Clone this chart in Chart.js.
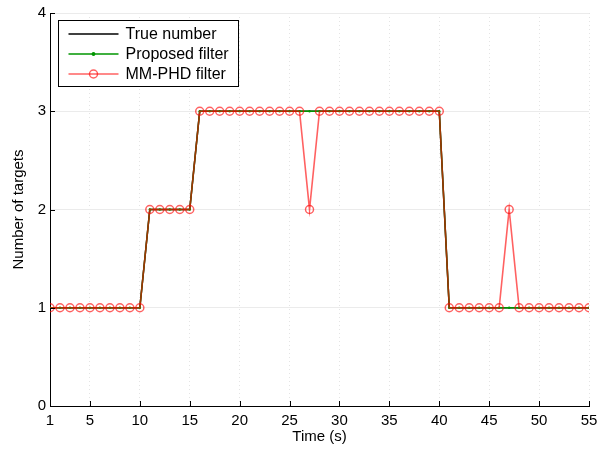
<!DOCTYPE html>
<html lang="en">
<head>
    <meta charset="UTF-8">
    <title>Number of targets</title>
    <script src="https://cdn.jsdelivr.net/npm/chart.js"></script>
    <style>
        body {
            margin: 0;
            background-color: #fff;
        }

        .wrap {
            width: 605px;
            height: 452px;
        }
    </style>
</head>
<body>
    <div class="wrap">
        <canvas id="countChart" width="605" height="452"></canvas>
    </div>

    <script>
        const timeSteps = [1, 2, 3, 4, 5, 6, 7, 8, 9, 10,
            11, 12, 13, 14, 15, 16, 17, 18, 19, 20,
            21, 22, 23, 24, 25, 26, 27, 28, 29, 30,
            31, 32, 33, 34, 35, 36, 37, 38, 39, 40,
            41, 42, 43, 44, 45, 46, 47, 48, 49, 50,
            51, 52, 53, 54, 55];

        const trueNumber = [1, 1, 1, 1, 1, 1, 1, 1, 1, 1,
            2, 2, 2, 2, 2, 3, 3, 3, 3, 3,
            3, 3, 3, 3, 3, 3, 3, 3, 3, 3,
            3, 3, 3, 3, 3, 3, 3, 3, 3, 3,
            1, 1, 1, 1, 1, 1, 1, 1, 1, 1,
            1, 1, 1, 1, 1];

        const proposedFilter = [1, 1, 1, 1, 1, 1, 1, 1, 1, 1,
            2, 2, 2, 2, 2, 3, 3, 3, 3, 3,
            3, 3, 3, 3, 3, 3, 3, 3, 3, 3,
            3, 3, 3, 3, 3, 3, 3, 3, 3, 3,
            1, 1, 1, 1, 1, 1, 1, 1, 1, 1,
            1, 1, 1, 1, 1];

        const mmPhdFilter = [1, 1, 1, 1, 1, 1, 1, 1, 1, 1,
            2, 2, 2, 2, 2, 3, 3, 3, 3, 3,
            3, 3, 3, 3, 3, 3, 2, 3, 3, 3,
            3, 3, 3, 3, 3, 3, 3, 3, 3, 3,
            1, 1, 1, 1, 1, 1, 2, 1, 1, 1,
            1, 1, 1, 1, 1];

        const xTickValues = [1, 5, 10, 15, 20, 25, 30, 35, 40, 45, 50, 55];
        const yTickValues = [0, 1, 2, 3, 4];

        const fontFamily = '"Liberation Sans", Arial, Helvetica, sans-serif';
        const redLine = 'rgba(255, 0, 0, 0.62)';
        const greenLine = 'rgb(0, 150, 0)';

        function toPoints(values) {
            return values.map((v, i) => ({ x: timeSteps[i], y: v }));
        }

        // small inward tick marks, MATLAB style
        const inwardTicks = {
            id: 'inwardTicks',
            afterDraw(chart) {
                const { ctx, chartArea, scales } = chart;
                ctx.save();
                ctx.strokeStyle = '#000';
                ctx.lineWidth = 1;
                ctx.beginPath();
                xTickValues.forEach(v => {
                    const px = Math.round(scales.x.getPixelForValue(v)) + 0.5;
                    ctx.moveTo(px, chartArea.bottom);
                    ctx.lineTo(px, chartArea.bottom - 5);
                });
                yTickValues.forEach(v => {
                    const py = Math.round(scales.y.getPixelForValue(v)) + 0.5;
                    ctx.moveTo(chartArea.left, py);
                    ctx.lineTo(chartArea.left + 5, py);
                });
                ctx.stroke();
                ctx.restore();
            }
        };

        // boxed legend with a line sample and marker for each series
        const boxLegend = {
            id: 'boxLegend',
            afterDraw(chart) {
                const ctx = chart.ctx;
                const left = 58.5, top = 20.5, width = 180, height = 66;
                ctx.save();
                ctx.fillStyle = '#fff';
                ctx.fillRect(left, top, width, height);
                ctx.strokeStyle = '#000';
                ctx.lineWidth = 1;
                ctx.strokeRect(left, top, width, height);

                const rows = [2, 1, 0];
                rows.forEach((dsIndex, row) => {
                    const ds = chart.data.datasets[dsIndex];
                    const y = top + 13.5 + row * 20;
                    ctx.strokeStyle = ds.borderColor;
                    ctx.lineWidth = ds.borderWidth;
                    ctx.beginPath();
                    ctx.moveTo(left + 10, y);
                    ctx.lineTo(left + 60, y);
                    ctx.stroke();
                    if (ds.pointRadius > 0) {
                        ctx.beginPath();
                        ctx.arc(left + 35, y, ds.pointRadius, 0, Math.PI * 2);
                        if (ds.pointBackgroundColor && ds.pointBackgroundColor !== 'transparent') {
                            ctx.fillStyle = ds.pointBackgroundColor;
                            ctx.fill();
                        }
                        ctx.lineWidth = ds.pointBorderWidth;
                        ctx.strokeStyle = ds.pointBorderColor;
                        ctx.stroke();
                    }
                    ctx.fillStyle = '#000';
                    ctx.font = '16px ' + fontFamily;
                    ctx.textBaseline = 'middle';
                    ctx.textAlign = 'left';
                    ctx.fillText(ds.label, left + 67, y + 1);
                });
                ctx.restore();
            }
        };

        const ctx = document.getElementById('countChart').getContext('2d');

        new Chart(ctx, {
            type: 'line',
            data: {
                datasets: [
                    {
                        label: 'MM-PHD filter',
                        data: toPoints(mmPhdFilter),
                        borderColor: redLine,
                        borderWidth: 1.6,
                        pointRadius: 4,
                        pointBorderWidth: 1.5,
                        pointBorderColor: redLine,
                        pointBackgroundColor: 'transparent',
                        order: 0
                    },
                    {
                        label: 'Proposed filter',
                        data: toPoints(proposedFilter),
                        borderColor: greenLine,
                        borderWidth: 1.5,
                        pointRadius: 1.2,
                        pointBorderWidth: 0,
                        pointBorderColor: greenLine,
                        pointBackgroundColor: greenLine,
                        order: 1
                    },
                    {
                        label: 'True number',
                        data: toPoints(trueNumber),
                        borderColor: '#000',
                        borderWidth: 1.5,
                        pointRadius: 0,
                        order: 2
                    }
                ]
            },
            options: {
                responsive: false,
                animation: false,
                devicePixelRatio: 1,
                layout: {
                    padding: { top: 12, right: 16, bottom: 0, left: 0 }
                },
                plugins: {
                    legend: { display: false },
                    tooltip: { enabled: false }
                },
                scales: {
                    x: {
                        type: 'linear',
                        min: 1,
                        max: 55,
                        afterBuildTicks(scale) {
                            scale.ticks = xTickValues.map(v => ({ value: v }));
                        },
                        afterFit(scale) {
                            scale.height = 46;
                        },
                        grid: {
                            color: '#e4e4e4',
                            lineWidth: 1,
                            drawTicks: false
                        },
                        border: {
                            display: true,
                            color: '#000',
                            width: 1,
                            dash: [1, 3]
                        },
                        ticks: {
                            padding: 6,
                            color: '#000',
                            maxRotation: 0,
                            autoSkip: false,
                            font: { family: fontFamily, size: 15 }
                        },
                        title: {
                            display: true,
                            text: 'Time (s)',
                            color: '#000',
                            padding: { top: 0, bottom: 6 },
                            font: { family: fontFamily, size: 15 }
                        }
                    },
                    y: {
                        min: 0,
                        max: 4,
                        afterBuildTicks(scale) {
                            scale.ticks = yTickValues.map(v => ({ value: v }));
                        },
                        afterFit(scale) {
                            scale.width = 50;
                        },
                        grid: {
                            color: '#ebebeb',
                            lineWidth: 1,
                            drawTicks: false
                        },
                        border: {
                            display: true,
                            color: '#000',
                            width: 1
                        },
                        ticks: {
                            padding: 4,
                            color: '#000',
                            font: { family: fontFamily, size: 15 }
                        },
                        title: {
                            display: true,
                            text: 'Number of targets',
                            color: '#000',
                            padding: { top: 10, bottom: 0 },
                            font: { family: fontFamily, size: 15 }
                        }
                    }
                }
            },
            plugins: [inwardTicks, boxLegend]
        });
    </script>
</body>
</html>
